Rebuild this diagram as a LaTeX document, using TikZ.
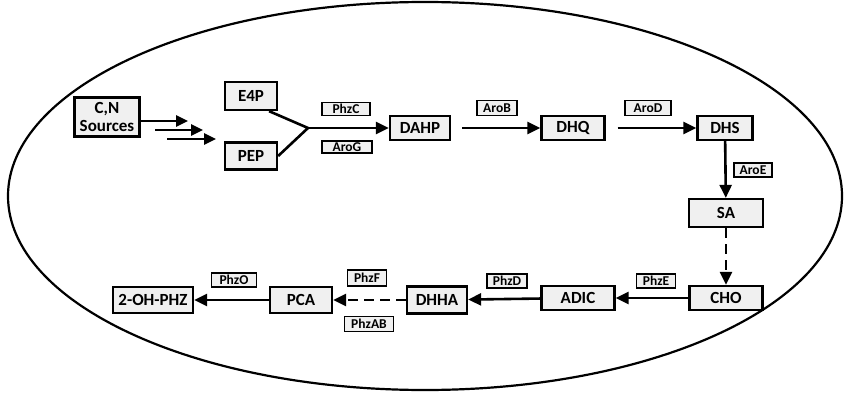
\documentclass[tikz,border=0pt]{standalone}
\usepackage{fontspec}
\setmainfont{Carlito}
\usetikzlibrary{arrows.meta}

\tikzset{
  metab/.style={draw, line width=2.3pt, fill=gray!12, inner sep=0pt,
    font=\bfseries\fontsize{17}{18}\selectfont, align=center},
  enz/.style={draw, line width=1.8pt, fill=gray!12, inner sep=0pt,
    font=\bfseries\fontsize{13.5}{14}\selectfont},
  flow/.style={line width=2.6pt, -{Triangle[length=13pt,width=12pt]}},
  weakflow/.style={flow, dash pattern=on 10pt off 6pt},
}

\begin{document}
\begin{tikzpicture}[x=1pt,y=-1pt]
\useasboundingbox (0,0) rectangle (850,406);
% cell
\draw[line width=2.2pt] (425,196) ellipse [x radius=417, y radius=194];

% metabolites
\node[metab, minimum width=65, minimum height=39] (src) at (107,117) {C,N\\Sources};
\node[metab, minimum width=52, minimum height=28] (e4p) at (251,96) {E4P};
\node[metab, minimum width=52, minimum height=27] (pep) at (251,156) {PEP};
\node[metab, minimum width=60, minimum height=24] (dahp) at (420,128) {DAHP};
\node[metab, minimum width=63, minimum height=24] (dhq) at (573,128) {DHQ};
\node[metab, minimum width=55, minimum height=24] (dhs) at (725,128) {DHS};
\node[metab, minimum width=74, minimum height=28] (sa) at (726,213) {SA};
\node[metab, minimum width=73, minimum height=24] (cho) at (726,298) {CHO};
\node[metab, minimum width=73, minimum height=24] (adic) at (578,298) {ADIC};
\node[metab, minimum width=60, minimum height=27] (dhha) at (437,300) {DHHA};
\node[metab, minimum width=62, minimum height=26] (pca) at (301,300) {PCA};
\node[metab, minimum width=80, minimum height=26] (ohphz) at (153,300) {2-OH-PHZ};

% enzymes
\node[enz, minimum width=48, minimum height=13] (phzc) at (346,109) {PhzC};
\node[enz, minimum width=50, minimum height=12] (arog) at (347,147) {AroG};
\node[enz, minimum width=40, minimum height=15] (arob) at (497,108) {AroB};
\node[enz, minimum width=46, minimum height=15] (arod) at (648,108) {AroD};
\node[enz, minimum width=38, minimum height=14] (aroe) at (753,170) {AroE};
\node[enz, minimum width=39, minimum height=14] (phze) at (656,281) {PhzE};
\node[enz, minimum width=40, minimum height=14] (phzd) at (507,281) {PhzD};
\node[enz, minimum width=39, minimum height=16] (phzf) at (367,278) {PhzF};
\node[enz, minimum width=49, minimum height=15] (phzab) at (369,324) {PhzAB};
\node[enz, minimum width=45, minimum height=14] (phzo) at (234,280) {PhzO};

% uptake arrows
\coordinate (in2) at (155,130);
\coordinate (in3) at (167,139);
\coordinate (out1) at (188,121);
\coordinate (out2) at (203,130);
\coordinate (out3) at (216,139);
\draw[flow, -{Triangle[length=12pt,width=11pt]}] (src.east |- out1) -- (out1);
\draw[flow, -{Triangle[length=12pt,width=11pt]}] (in2) -- (out2);
\draw[flow, -{Triangle[length=12pt,width=11pt]}] (in3) -- (out3);

% shikimate branch
\coordinate (fork) at (308,128);
\draw[line width=2.6pt] (e4p.-40) -- (fork) -- (pep.east);
\draw[flow] (fork) -- (dahp);
\draw[flow, shorten <=11pt] (dahp) -- (dhq);
\draw[flow, shorten <=12pt] (dhq) -- (dhs);
\draw[flow] (dhs) -- (sa);
\draw[weakflow] (sa) -- (cho);

% phenazine branch
\draw[flow] (cho) -- (adic);
\draw[flow] (adic) -- (dhha);
\draw[weakflow] (dhha) -- (pca);
\draw[flow] (pca) -- (ohphz);
\end{tikzpicture}
\end{document}
